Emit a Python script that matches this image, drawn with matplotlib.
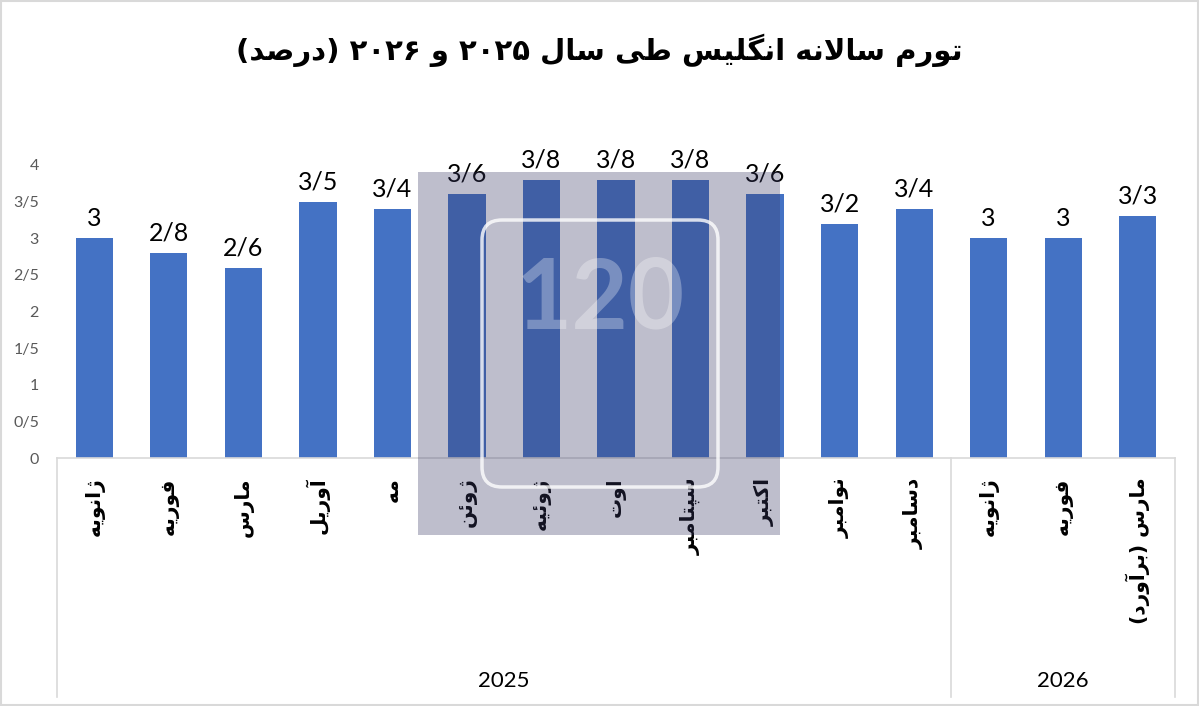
import re
import unicodedata
import numpy as np
import matplotlib
matplotlib.use("Agg")
import matplotlib.pyplot as plt
from matplotlib import font_manager, ft2font
from matplotlib.patches import Rectangle, FancyBboxPatch

# data
title = "تورم سالانه انگلیس طی سال ۲۰۲۵ و ۲۰۲۶ (درصد)"
months = ["ژانویه", "فوریه", "مارس", "آوریل", "مه", "ژوئن", "ژوئیه", "اوت",
          "سپتامبر", "اکتبر", "نوامبر", "دسامبر", "ژانویه", "فوریه", "مارس (برآورد)"]
values = [3, 2.8, 2.6, 3.5, 3.4, 3.6, 3.8, 3.8, 3.8, 3.6, 3.2, 3.4, 3, 3, 3.3]
years = ["2025", "2026"]
year_counts = [12, 3]
yticks = [0, 0.5, 1, 1.5, 2, 2.5, 3, 3.5, 4]


def fmt(v):
    # persian style decimal separator
    return f"{v:g}".replace(".", "/")


# pick a calibri-like font that is really installed
names = {f.name for f in font_manager.fontManager.ttflist}
num_font = next((n for n in ["Lato", "Open Sans", "Roboto", "Noto Sans"] if n in names), "DejaVu Sans")

# --- minimal arabic shaping, matplotlib does no shaping / bidi ---
cmap = set(ft2font.FT2Font(font_manager.findfont(
    font_manager.FontProperties(family="DejaVu Sans", weight="bold"))).get_charmap().keys())

FORMS = {}
for cp in list(range(0xFB50, 0xFE00)) + list(range(0xFE70, 0xFF00)):
    dec = unicodedata.decomposition(chr(cp)).split()
    if len(dec) == 2 and dec[0] in ("<isolated>", "<final>", "<initial>", "<medial>"):
        base = chr(int(dec[1], 16))
        form = dec[0][1:-1]
        if cp in cmap:
            FORMS.setdefault(base, {}).setdefault(form, chr(cp))
FORMS["\uFEFB"] = {"isolated": "\uFEFB", "final": "\uFEFC"}


def shape(text):
    text = text.replace("لا", "\uFEFB")
    out = []
    for i, ch in enumerate(text):
        f = FORMS.get(ch)
        if not f:
            out.append(ch)
            continue
        prev = FORMS.get(text[i - 1], {}) if i > 0 else {}
        nxt = FORMS.get(text[i + 1], {}) if i + 1 < len(text) else {}
        jp = ("initial" in prev or "medial" in prev) and ("final" in f or "medial" in f)
        jn = ("final" in nxt or "medial" in nxt) and ("initial" in f or "medial" in f)
        if jp and jn and "medial" in f:
            out.append(f["medial"])
        elif jp and "final" in f:
            out.append(f["final"])
        elif jn and "initial" in f:
            out.append(f["initial"])
        else:
            out.append(f.get("isolated", ch))
    return "".join(out)


def rtl(text):
    s = shape(text)[::-1].translate(str.maketrans("()", ")("))
    return re.sub(r"[0-9\u06F0-\u06F9]+", lambda m: m.group(0)[::-1], s)


W, H = 1199, 706
fig = plt.figure(figsize=(W / 100, H / 100), dpi=100)
ax = fig.add_axes([57 / W, (H - 458) / H, (1175 - 57) / W, 293 / H])

x = np.arange(len(values))
ax.bar(x, values, width=0.5, color="#4472C4", zorder=2)
for xi, v in zip(x, values):
    ax.annotate(fmt(v), (xi, v), xytext=(0, 6), textcoords="offset points",
                ha="center", va="bottom", fontsize=18, family=num_font, color="#000000")

ax.set_xlim(-0.5, len(values) - 0.5)
ax.set_ylim(0, 4)
ax.set_yticks(yticks)
ax.set_yticklabels([fmt(t) for t in yticks], fontsize=11.5, color="#595959", family=num_font)
ax.set_xticks(x)
ax.set_xticklabels([rtl(m) for m in months], rotation=90, fontsize=14.5,
                   fontweight="bold", family="DejaVu Sans")
ax.tick_params(axis="y", length=0, pad=13)
ax.tick_params(axis="x", length=0, pad=14)
for s in ["top", "right", "left"]:
    ax.spines[s].set_visible(False)
ax.spines["bottom"].set_color("#D9D9D9")
ax.spines["bottom"].set_linewidth(1.2)

# group separators and year labels
trans = ax.get_xaxis_transform()
start = -0.5
ax.plot([start, start], [0, -0.816], transform=trans, color="#D9D9D9", lw=1.2, clip_on=False)
for yr, n in zip(years, year_counts):
    end = start + n
    ax.plot([end, end], [0, -0.816], transform=trans, color="#D9D9D9", lw=1.2, clip_on=False)
    ax.text((start + end) / 2, -0.76, yr, transform=trans, ha="center", va="center",
            fontsize=16, family=num_font)
    start = end

fig.text(0.5, (H - 50) / H, rtl(title), ha="center", va="center",
         fontsize=21, fontweight="bold", family="DejaVu Sans")

# watermark
fig.patches.append(Rectangle((418 / W, (H - 535) / H), 362 / W, 363 / H,
                             transform=fig.transFigure, color="#3A3A67", alpha=0.33,
                             lw=0, zorder=3))
fig.patches.append(FancyBboxPatch((4.82, (H - 487) / 100), 2.36, 2.67,
                                  boxstyle="round,pad=0,rounding_size=0.2",
                                  transform=fig.dpi_scale_trans, fill=False,
                                  ec="white", lw=2.5, alpha=0.8, zorder=4))
fig.text(600 / W, (H - 300) / H, "120", ha="center", va="center", fontsize=70,
         fontweight="bold", family=num_font, color="white", alpha=0.3, zorder=4)

# outer border
fig.patches.append(Rectangle((0.001, 0.001), 0.998, 0.997, transform=fig.transFigure,
                             fill=False, ec="#D9D9D9", lw=1.5))

fig.savefig("out.png", dpi=100)
